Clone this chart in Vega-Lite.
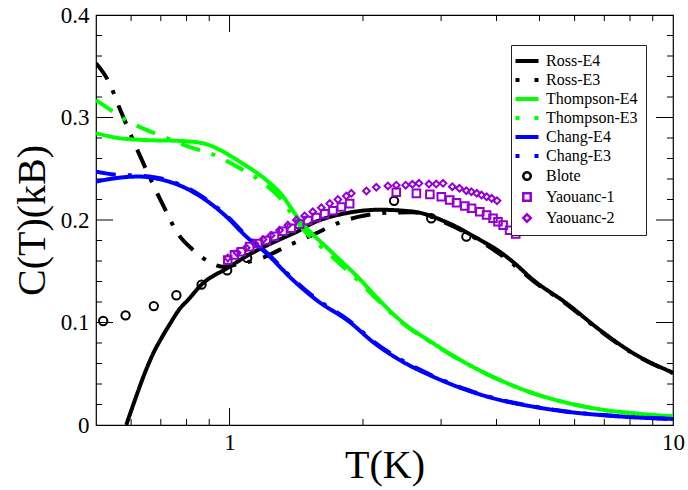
{
  "$schema": "https://vega.github.io/schema/vega-lite/v6.json",
  "width": 577,
  "height": 410,
  "autosize": "none",
  "padding": {"left": 96, "top": 15, "right": 15, "bottom": 65},
  "background": "white",
  "config": {
    "font": "Times New Roman",
    "view": {"stroke": "black", "strokeWidth": 1.2},
    "axis": {
      "domainColor": "black", "domainWidth": 1.2, "ticks": false, "zindex": 0,
      "labelFont": "Times New Roman", "labelFontSize": 23, "labelColor": "black",
      "titleFont": "Times New Roman", "titleFontSize": 40, "titleFontWeight": "normal", "titleColor": "black",
      "grid": false
    },
    "legend": {"labelFont": "Times New Roman"},
    "text": {"font": "Times New Roman"}
  },
  "datasets": {
    "lines": [
      {"s":"Ross-E4","T":0.585,"C":0},{"s":"Ross-E4","T":0.615,"C":0.027},{"s":"Ross-E4","T":0.646,"C":0.052},{"s":"Ross-E4","T":0.675,"C":0.071},{"s":"Ross-E4","T":0.705,"C":0.086},{"s":"Ross-E4","T":0.735,"C":0.099},{"s":"Ross-E4","T":0.768,"C":0.112},{"s":"Ross-E4","T":0.81,"C":0.123},{"s":"Ross-E4","T":0.865,"C":0.137},{"s":"Ross-E4","T":0.988,"C":0.153},{"s":"Ross-E4","T":1.105,"C":0.166},{"s":"Ross-E4","T":1.297,"C":0.181},{"s":"Ross-E4","T":1.41,"C":0.188},{"s":"Ross-E4","T":1.54,"C":0.197},{"s":"Ross-E4","T":1.83,"C":0.2066},{"s":"Ross-E4","T":2.18,"C":0.21},{"s":"Ross-E4","T":2.59,"C":0.2082},{"s":"Ross-E4","T":3.08,"C":0.198},{"s":"Ross-E4","T":3.67,"C":0.1806},{"s":"Ross-E4","T":4.07,"C":0.169},{"s":"Ross-E4","T":4.36,"C":0.159},{"s":"Ross-E4","T":4.84,"C":0.1415},{"s":"Ross-E4","T":5.75,"C":0.1188},{"s":"Ross-E4","T":6.84,"C":0.0927},{"s":"Ross-E4","T":8.14,"C":0.07},{"s":"Ross-E4","T":10,"C":0.051},
      {"s":"Ross-E3","T":0.5,"C":0.353},{"s":"Ross-E3","T":0.534,"C":0.335},{"s":"Ross-E3","T":0.567,"C":0.3075},{"s":"Ross-E3","T":0.608,"C":0.2766},{"s":"Ross-E3","T":0.657,"C":0.244},{"s":"Ross-E3","T":0.711,"C":0.213},{"s":"Ross-E3","T":0.768,"C":0.1855},{"s":"Ross-E3","T":0.824,"C":0.1715},{"s":"Ross-E3","T":0.898,"C":0.1594},{"s":"Ross-E3","T":0.963,"C":0.1545},{"s":"Ross-E3","T":1.068,"C":0.1578},{"s":"Ross-E3","T":1.185,"C":0.163},{"s":"Ross-E3","T":1.366,"C":0.1757},{"s":"Ross-E3","T":1.54,"C":0.1855},{"s":"Ross-E3","T":1.756,"C":0.197},{"s":"Ross-E3","T":1.96,"C":0.2033},{"s":"Ross-E3","T":2.3,"C":0.2072},{"s":"Ross-E3","T":2.59,"C":0.2075},{"s":"Ross-E3","T":3.08,"C":0.197},{"s":"Ross-E3","T":3.67,"C":0.1796},{"s":"Ross-E3","T":4.36,"C":0.157},{"s":"Ross-E3","T":4.84,"C":0.1405},{"s":"Ross-E3","T":5.75,"C":0.118},{"s":"Ross-E3","T":6.84,"C":0.092},{"s":"Ross-E3","T":8.14,"C":0.0695},{"s":"Ross-E3","T":10,"C":0.0505},
      {"s":"Thompson-E4","T":0.5,"C":0.2847},{"s":"Thompson-E4","T":0.553,"C":0.2804},{"s":"Thompson-E4","T":0.646,"C":0.278},{"s":"Thompson-E4","T":0.768,"C":0.2772},{"s":"Thompson-E4","T":0.868,"C":0.275},{"s":"Thompson-E4","T":0.93,"C":0.2705},{"s":"Thompson-E4","T":0.996,"C":0.2635},{"s":"Thompson-E4","T":1.068,"C":0.2554},{"s":"Thompson-E4","T":1.21,"C":0.239},{"s":"Thompson-E4","T":1.297,"C":0.227},{"s":"Thompson-E4","T":1.439,"C":0.2},{"s":"Thompson-E4","T":1.71,"C":0.1676},{"s":"Thompson-E4","T":1.96,"C":0.143},{"s":"Thompson-E4","T":2.14,"C":0.1252},{"s":"Thompson-E4","T":2.42,"C":0.1025},{"s":"Thompson-E4","T":2.88,"C":0.0797},{"s":"Thompson-E4","T":3.42,"C":0.0602},{"s":"Thompson-E4","T":4.07,"C":0.0439},{"s":"Thompson-E4","T":4.84,"C":0.031},{"s":"Thompson-E4","T":5.75,"C":0.0218},{"s":"Thompson-E4","T":6.84,"C":0.0153},{"s":"Thompson-E4","T":8.14,"C":0.0114},{"s":"Thompson-E4","T":10,"C":0.0085},
      {"s":"Thompson-E3","T":0.5,"C":0.317},{"s":"Thompson-E3","T":0.539,"C":0.3075},{"s":"Thompson-E3","T":0.583,"C":0.2977},{"s":"Thompson-E3","T":0.636,"C":0.2896},{"s":"Thompson-E3","T":0.693,"C":0.283},{"s":"Thompson-E3","T":0.809,"C":0.2716},{"s":"Thompson-E3","T":0.93,"C":0.263},{"s":"Thompson-E3","T":1.05,"C":0.251},{"s":"Thompson-E3","T":1.21,"C":0.234},{"s":"Thompson-E3","T":1.297,"C":0.222},{"s":"Thompson-E3","T":1.439,"C":0.195},{"s":"Thompson-E3","T":1.71,"C":0.1636},{"s":"Thompson-E3","T":1.96,"C":0.14},{"s":"Thompson-E3","T":2.14,"C":0.1235},{"s":"Thompson-E3","T":2.42,"C":0.1015},{"s":"Thompson-E3","T":2.88,"C":0.0792},{"s":"Thompson-E3","T":3.42,"C":0.06},{"s":"Thompson-E3","T":4.07,"C":0.0437},{"s":"Thompson-E3","T":4.84,"C":0.0308},{"s":"Thompson-E3","T":5.75,"C":0.0217},{"s":"Thompson-E3","T":6.84,"C":0.0152},{"s":"Thompson-E3","T":8.14,"C":0.0113},{"s":"Thompson-E3","T":10,"C":0.0084},
      {"s":"Chang-E4","T":0.5,"C":0.2375},{"s":"Chang-E4","T":0.553,"C":0.2408},{"s":"Chang-E4","T":0.624,"C":0.2424},{"s":"Chang-E4","T":0.705,"C":0.2392},{"s":"Chang-E4","T":0.782,"C":0.2327},{"s":"Chang-E4","T":0.856,"C":0.2235},{"s":"Chang-E4","T":0.98,"C":0.204},{"s":"Chang-E4","T":1.09,"C":0.184},{"s":"Chang-E4","T":1.21,"C":0.1676},{"s":"Chang-E4","T":1.39,"C":0.1415},{"s":"Chang-E4","T":1.57,"C":0.122},{"s":"Chang-E4","T":1.866,"C":0.1005},{"s":"Chang-E4","T":2.12,"C":0.08},{"s":"Chang-E4","T":2.42,"C":0.0634},{"s":"Chang-E4","T":2.88,"C":0.0471},{"s":"Chang-E4","T":3.42,"C":0.0342},{"s":"Chang-E4","T":4.07,"C":0.0244},{"s":"Chang-E4","T":4.84,"C":0.0179},{"s":"Chang-E4","T":5.75,"C":0.013},{"s":"Chang-E4","T":6.84,"C":0.0098},{"s":"Chang-E4","T":8.14,"C":0.0075},{"s":"Chang-E4","T":10,"C":0.0059},
      {"s":"Chang-E3","T":0.5,"C":0.247},{"s":"Chang-E3","T":0.553,"C":0.2442},{"s":"Chang-E3","T":0.616,"C":0.2434},{"s":"Chang-E3","T":0.705,"C":0.2402},{"s":"Chang-E3","T":0.782,"C":0.2337},{"s":"Chang-E3","T":0.856,"C":0.2245},{"s":"Chang-E3","T":0.98,"C":0.205},{"s":"Chang-E3","T":1.09,"C":0.185},{"s":"Chang-E3","T":1.21,"C":0.1686},{"s":"Chang-E3","T":1.39,"C":0.1425},{"s":"Chang-E3","T":1.57,"C":0.123},{"s":"Chang-E3","T":1.866,"C":0.1015},{"s":"Chang-E3","T":2.12,"C":0.081},{"s":"Chang-E3","T":2.42,"C":0.0644},{"s":"Chang-E3","T":2.88,"C":0.0478},{"s":"Chang-E3","T":3.42,"C":0.0347},{"s":"Chang-E3","T":4.07,"C":0.0248},{"s":"Chang-E3","T":4.84,"C":0.0182},{"s":"Chang-E3","T":5.75,"C":0.0132},{"s":"Chang-E3","T":6.84,"C":0.01},{"s":"Chang-E3","T":8.14,"C":0.0077},{"s":"Chang-E3","T":10,"C":0.006}
    ],
    "points": [
      {"s":"Blote","T":0.519,"C":0.1015},{"s":"Blote","T":0.583,"C":0.107},{"s":"Blote","T":0.675,"C":0.116},{"s":"Blote","T":0.759,"C":0.1266},{"s":"Blote","T":0.865,"C":0.137},{"s":"Blote","T":0.988,"C":0.151},{"s":"Blote","T":1.096,"C":0.163},{"s":"Blote","T":2.35,"C":0.2187},{"s":"Blote","T":2.85,"C":0.2017},{"s":"Blote","T":3.42,"C":0.1838},
      {"s":"Yaouanc-1","T":0.991,"C":0.161},{"s":"Yaouanc-1","T":1.026,"C":0.166},{"s":"Yaouanc-1","T":1.063,"C":0.169},{"s":"Yaouanc-1","T":1.11,"C":0.174},{"s":"Yaouanc-1","T":1.158,"C":0.177},{"s":"Yaouanc-1","T":1.21,"C":0.18},{"s":"Yaouanc-1","T":1.263,"C":0.184},{"s":"Yaouanc-1","T":1.319,"C":0.189},{"s":"Yaouanc-1","T":1.378,"C":0.192},{"s":"Yaouanc-1","T":1.439,"C":0.196},{"s":"Yaouanc-1","T":1.502,"C":0.1995},{"s":"Yaouanc-1","T":1.569,"C":0.2025},{"s":"Yaouanc-1","T":1.639,"C":0.206},{"s":"Yaouanc-1","T":1.711,"C":0.209},{"s":"Yaouanc-1","T":1.787,"C":0.2127},{"s":"Yaouanc-1","T":1.866,"C":0.216},{"s":"Yaouanc-1","T":2.377,"C":0.227},{"s":"Yaouanc-1","T":2.639,"C":0.226},{"s":"Yaouanc-1","T":2.83,"C":0.225},{"s":"Yaouanc-1","T":3.003,"C":0.2227},{"s":"Yaouanc-1","T":3.138,"C":0.2195},{"s":"Yaouanc-1","T":3.25,"C":0.2169},{"s":"Yaouanc-1","T":3.394,"C":0.2137},{"s":"Yaouanc-1","T":3.513,"C":0.2114},{"s":"Yaouanc-1","T":3.667,"C":0.2081},{"s":"Yaouanc-1","T":3.799,"C":0.2049},{"s":"Yaouanc-1","T":3.928,"C":0.2017},{"s":"Yaouanc-1","T":4.03,"C":0.1983},{"s":"Yaouanc-1","T":4.14,"C":0.195},{"s":"Yaouanc-1","T":4.28,"C":0.19},{"s":"Yaouanc-1","T":4.42,"C":0.1863},
      {"s":"Yaouanc-2","T":0.991,"C":0.163},{"s":"Yaouanc-2","T":1.04,"C":0.168},{"s":"Yaouanc-2","T":1.09,"C":0.173},{"s":"Yaouanc-2","T":1.14,"C":0.177},{"s":"Yaouanc-2","T":1.19,"C":0.181},{"s":"Yaouanc-2","T":1.24,"C":0.185},{"s":"Yaouanc-2","T":1.297,"C":0.19},{"s":"Yaouanc-2","T":1.354,"C":0.195},{"s":"Yaouanc-2","T":1.415,"C":0.2},{"s":"Yaouanc-2","T":1.477,"C":0.204},{"s":"Yaouanc-2","T":1.541,"C":0.208},{"s":"Yaouanc-2","T":1.611,"C":0.212},{"s":"Yaouanc-2","T":1.682,"C":0.216},{"s":"Yaouanc-2","T":1.756,"C":0.22},{"s":"Yaouanc-2","T":1.834,"C":0.2234},{"s":"Yaouanc-2","T":1.882,"C":0.226},{"s":"Yaouanc-2","T":2.036,"C":0.2283},{"s":"Yaouanc-2","T":2.143,"C":0.2319},{"s":"Yaouanc-2","T":2.276,"C":0.2332},{"s":"Yaouanc-2","T":2.377,"C":0.234},{"s":"Yaouanc-2","T":2.496,"C":0.234},{"s":"Yaouanc-2","T":2.584,"C":0.2348},{"s":"Yaouanc-2","T":2.674,"C":0.2358},{"s":"Yaouanc-2","T":2.817,"C":0.2351},{"s":"Yaouanc-2","T":2.925,"C":0.2351},{"s":"Yaouanc-2","T":3.03,"C":0.2358},{"s":"Yaouanc-2","T":3.18,"C":0.2325},{"s":"Yaouanc-2","T":3.3,"C":0.2309},{"s":"Yaouanc-2","T":3.42,"C":0.2286},{"s":"Yaouanc-2","T":3.51,"C":0.2276},{"s":"Yaouanc-2","T":3.61,"C":0.226},{"s":"Yaouanc-2","T":3.7,"C":0.2244},{"s":"Yaouanc-2","T":3.8,"C":0.2227},{"s":"Yaouanc-2","T":3.9,"C":0.2211},{"s":"Yaouanc-2","T":4.01,"C":0.2188}
    ],
    "xticks": [
      {"T":0.6,"C":0,"major":false},{"T":0.7,"C":0,"major":false},{"T":0.8,"C":0,"major":false},{"T":0.9,"C":0,"major":false},{"T":1,"C":0,"major":true},{"T":2,"C":0,"major":false},{"T":3,"C":0,"major":false},{"T":4,"C":0,"major":false},{"T":5,"C":0,"major":false},{"T":6,"C":0,"major":false},{"T":7,"C":0,"major":false},{"T":8,"C":0,"major":false},{"T":9,"C":0,"major":false},
      {"T":0.6,"C":0.4,"major":false},{"T":0.7,"C":0.4,"major":false},{"T":0.8,"C":0.4,"major":false},{"T":0.9,"C":0.4,"major":false},{"T":1,"C":0.4,"major":true},{"T":2,"C":0.4,"major":false},{"T":3,"C":0.4,"major":false},{"T":4,"C":0.4,"major":false},{"T":5,"C":0.4,"major":false},{"T":6,"C":0.4,"major":false},{"T":7,"C":0.4,"major":false},{"T":8,"C":0.4,"major":false},{"T":9,"C":0.4,"major":false}
    ],
    "yticks": [
      {"T":0.5,"C":0.02,"major":false},{"T":0.5,"C":0.04,"major":false},{"T":0.5,"C":0.06,"major":false},{"T":0.5,"C":0.08,"major":false},{"T":0.5,"C":0.1,"major":true},{"T":0.5,"C":0.12,"major":false},{"T":0.5,"C":0.14,"major":false},{"T":0.5,"C":0.16,"major":false},{"T":0.5,"C":0.18,"major":false},{"T":0.5,"C":0.2,"major":true},{"T":0.5,"C":0.22,"major":false},{"T":0.5,"C":0.24,"major":false},{"T":0.5,"C":0.26,"major":false},{"T":0.5,"C":0.28,"major":false},{"T":0.5,"C":0.3,"major":true},{"T":0.5,"C":0.32,"major":false},{"T":0.5,"C":0.34,"major":false},{"T":0.5,"C":0.36,"major":false},{"T":0.5,"C":0.38,"major":false},
      {"T":10,"C":0.02,"major":false},{"T":10,"C":0.04,"major":false},{"T":10,"C":0.06,"major":false},{"T":10,"C":0.08,"major":false},{"T":10,"C":0.1,"major":true},{"T":10,"C":0.12,"major":false},{"T":10,"C":0.14,"major":false},{"T":10,"C":0.16,"major":false},{"T":10,"C":0.18,"major":false},{"T":10,"C":0.2,"major":true},{"T":10,"C":0.22,"major":false},{"T":10,"C":0.24,"major":false},{"T":10,"C":0.26,"major":false},{"T":10,"C":0.28,"major":false},{"T":10,"C":0.3,"major":true},{"T":10,"C":0.32,"major":false},{"T":10,"C":0.34,"major":false},{"T":10,"C":0.36,"major":false},{"T":10,"C":0.38,"major":false}
    ]
  },
  "encoding": {
    "x": {"field": "T", "type": "quantitative",
      "scale": {"type": "log", "domain": [0.5, 10], "nice": false},
      "axis": {"orient": "bottom", "title": "T(K)", "titlePadding": -9, "zindex": 0, "domain": false,
        "values": [1, 10], "ticks": false, "labelFont": "Times New Roman",
        "labelPadding": 6, "labelFlush": false, "labelOverlap": false}},
    "y": {"field": "C", "type": "quantitative",
      "scale": {"domain": [0, 0.4], "nice": false, "zero": false},
      "axis": {"orient": "left", "title": "C(T)(kB)", "titlePadding": 8, "zindex": 0, "domain": false,
        "values": [0, 0.1, 0.2, 0.3, 0.4],
        "labelExpr": "datum.value == 0 ? '0' : format(datum.value, '.1f')",
        "ticks": false, "labelFont": "Times New Roman",
        "labelPadding": 7, "labelOverlap": false}}
  },
  "layer": [
    {
      "data": {"name": "lines"},
      "mark": {"type": "line", "strokeWidth": 4, "clip": true, "strokeCap": "butt", "interpolate": "monotone"},
      "encoding": {
        "color": {"field": "s", "type": "nominal",
          "scale": {"domain": ["Ross-E4","Ross-E3","Thompson-E4","Thompson-E3","Chang-E4","Chang-E3","Blote","Yaouanc-1","Yaouanc-2"],
                    "range": ["#000000","#000000","#00ff00","#00ff00","#0000ff","#0000ff","#000000","#9400d3","#9400d3"]},
          "legend": {"title": null, "orient": "none", "legendX": 415, "legendY": 30,
            "strokeColor": "#222222", "fillColor": "white", "padding": 8, "cornerRadius": 0,
            "labelFont": "Times New Roman", "labelFontSize": 16, "labelColor": "black", "labelOffset": 11,
            "symbolSize": 529, "symbolType": "stroke", "rowPadding": 3, "symbolStrokeWidth": 4,
            "encode": {
              "symbols": {"update": {
              "shape": {"signal": "datum.value === 'Blote' ? 'circle' : datum.value === 'Yaouanc-1' ? 'square' : datum.value === 'Yaouanc-2' ? 'diamond' : 'stroke'"},
              "size": {"signal": "indexof(['Blote','Yaouanc-1','Yaouanc-2'], datum.value) >= 0 ? 55 : 529"},
              "strokeDash": {"signal": "indexof(datum.value, 'E3') >= 0 ? [4,15] : [1,0]"},
              "strokeWidth": {"signal": "indexof(['Blote','Yaouanc-1','Yaouanc-2'], datum.value) >= 0 ? 2.5 : 4"},
              "fill": {"value": "transparent"},
              "stroke": {"scale": "color", "field": "value"}
            }}}}},
        "strokeDash": {"field": "s", "type": "nominal",
          "scale": {"domain": ["Ross-E4","Ross-E3","Thompson-E4","Thompson-E3","Chang-E4","Chang-E3"],
                    "range": [[1,0],[20,12,4,12],[1,0],[20,12,4,12],[1,0],[20,12,4,12]]},
          "legend": null}
      }
    },
    {
      "data": {"name": "points"},
      "mark": {"type": "point", "filled": false, "strokeWidth": 2, "opacity": 1, "clip": true},
      "encoding": {
        "color": {"field": "s", "type": "nominal",
          "legend": {"title": null, "orient": "none", "legendX": 415, "legendY": 30,
            "strokeColor": "#222222", "fillColor": "white", "padding": 8, "cornerRadius": 0,
            "labelFont": "Times New Roman", "labelFontSize": 16, "labelColor": "black", "labelOffset": 11,
            "symbolSize": 529, "symbolType": "stroke", "rowPadding": 3, "symbolStrokeWidth": 4,
            "encode": {
              "symbols": {"update": {
              "shape": {"signal": "datum.value === 'Blote' ? 'circle' : datum.value === 'Yaouanc-1' ? 'square' : datum.value === 'Yaouanc-2' ? 'diamond' : 'stroke'"},
              "size": {"signal": "indexof(['Blote','Yaouanc-1','Yaouanc-2'], datum.value) >= 0 ? 55 : 529"},
              "strokeDash": {"signal": "indexof(datum.value, 'E3') >= 0 ? [4,15] : [1,0]"},
              "strokeWidth": {"signal": "indexof(['Blote','Yaouanc-1','Yaouanc-2'], datum.value) >= 0 ? 2.5 : 4"},
              "fill": {"value": "transparent"},
              "stroke": {"scale": "color", "field": "value"}
            }}}}},
        "shape": {"field": "s", "type": "nominal",
          "scale": {"domain": ["Blote","Yaouanc-1","Yaouanc-2"], "range": ["circle","square","diamond"]},
          "legend": null},
        "size": {"field": "s", "type": "nominal",
          "scale": {"domain": ["Blote","Yaouanc-1","Yaouanc-2"], "range": [70, 45, 70]},
          "legend": null}
      }
    },
    {
      "data": {"name": "xticks"},
      "mark": {"type": "tick", "orient": "vertical", "color": "black", "thickness": 1, "clip": true, "opacity": 1},
      "encoding": {
        "size": {"condition": {"test": "datum.major", "value": 34}, "value": 12}
      }
    },
    {
      "data": {"name": "yticks"},
      "mark": {"type": "tick", "orient": "horizontal", "color": "black", "thickness": 1, "clip": true, "opacity": 1},
      "encoding": {
        "size": {"condition": {"test": "datum.major", "value": 34}, "value": 12}
      }
    }
  ]
}
